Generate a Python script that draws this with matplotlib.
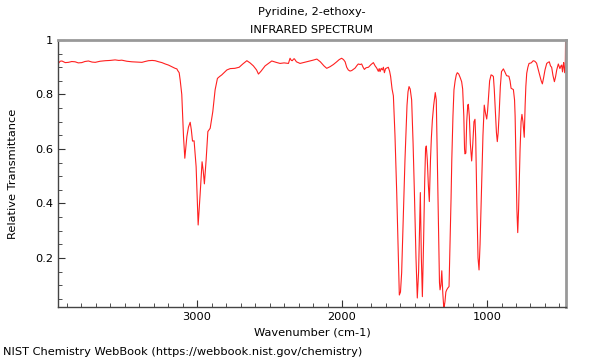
import matplotlib
matplotlib.use("Agg")
import matplotlib.pyplot as plt
from matplotlib.ticker import MultipleLocator

# Spectrum (wavenumber in cm-1, relative transmittance)
wavenumber = [
    3958, 3945, 3933, 3910, 3888, 3865, 3842, 3820, 3796, 3775, 3750, 3725,
    3703, 3670, 3634, 3600, 3566, 3540, 3520, 3485, 3450, 3415, 3381, 3360,
    3336, 3310, 3290, 3265, 3243, 3220, 3198, 3175, 3152, 3140, 3133, 3124,
    3117, 3106, 3094, 3085, 3071, 3060, 3048, 3040, 3032, 3021, 3007, 2993,
    2979, 2966, 2958, 2950, 2938, 2926, 2910, 2892, 2876, 2860, 2845, 2830,
    2795, 2772, 2740, 2710, 2685, 2657, 2635, 2612, 2590, 2577, 2560, 2531,
    2505, 2485, 2455, 2428, 2400, 2370, 2359, 2350, 2343, 2335, 2329, 2315,
    2290, 2260, 2230, 2200, 2174, 2150, 2125, 2106, 2083, 2060, 2037, 2020,
    2003, 1990, 1979, 1968, 1957, 1945, 1933, 1920, 1910, 1898, 1888, 1875,
    1865, 1855, 1846, 1835, 1818, 1800, 1784, 1772, 1761, 1750, 1744, 1738,
    1730, 1722, 1715, 1708, 1700, 1692, 1681, 1672, 1665, 1655, 1646, 1635,
    1623, 1612, 1605, 1597, 1589, 1578, 1566, 1552, 1545, 1538, 1530, 1520,
    1510, 1501, 1490, 1481, 1472, 1465, 1460, 1453, 1446, 1438, 1430, 1424,
    1419, 1412, 1405, 1398, 1390, 1384, 1377, 1368, 1357, 1350, 1343, 1335,
    1328, 1324, 1318, 1312, 1305, 1300, 1297, 1290, 1284, 1278, 1270, 1262,
    1255, 1248, 1243, 1235, 1228, 1220, 1212, 1205, 1195, 1185, 1175, 1168,
    1160, 1155, 1152, 1146, 1140, 1133, 1129, 1122, 1115, 1106, 1098, 1090,
    1083, 1078, 1070, 1062, 1055, 1048, 1037, 1028, 1019, 1010, 1002, 996,
    991, 982, 972, 964, 956, 950, 941, 935, 929, 923, 917, 908,
    900, 887, 876, 865, 849, 841, 834, 818, 810, 806, 800, 794,
    788, 782, 772, 765, 759, 752, 743, 737, 732, 726, 718, 710,
    695, 681, 670, 658, 646, 634, 626, 618, 610, 600, 588, 578,
    570, 562, 554, 545, 535, 527, 519, 508, 502, 497, 490, 485,
    479, 475, 471, 467, 464, 460, 458,
]
transmittance = [
    0.914, 0.922, 0.923, 0.917, 0.918, 0.921, 0.920, 0.916, 0.917, 0.921, 0.923, 0.919,
    0.918, 0.922, 0.924, 0.925, 0.927, 0.925, 0.926, 0.922, 0.920, 0.919, 0.918, 0.921,
    0.924, 0.925, 0.924, 0.920, 0.917, 0.912, 0.908, 0.902, 0.896, 0.894, 0.887, 0.880,
    0.853, 0.800, 0.645, 0.566, 0.645, 0.680, 0.698, 0.670, 0.629, 0.630, 0.535, 0.321,
    0.437, 0.553, 0.520, 0.472, 0.560, 0.664, 0.676, 0.737, 0.817, 0.859, 0.866, 0.872,
    0.890, 0.895, 0.896, 0.900, 0.912, 0.924, 0.916, 0.905, 0.890, 0.875, 0.885, 0.905,
    0.915, 0.923, 0.918, 0.914, 0.916, 0.914, 0.933, 0.925, 0.924, 0.930, 0.931, 0.920,
    0.914, 0.918, 0.922, 0.926, 0.930, 0.920, 0.905, 0.896, 0.902, 0.910, 0.920, 0.928,
    0.933, 0.928, 0.920, 0.900, 0.890, 0.886, 0.888, 0.893, 0.897, 0.906, 0.912, 0.910,
    0.912, 0.900, 0.892, 0.898, 0.900, 0.910, 0.917, 0.905, 0.897, 0.885, 0.895, 0.884,
    0.896, 0.890, 0.900, 0.880, 0.895, 0.897, 0.900, 0.885, 0.866, 0.820, 0.795, 0.650,
    0.440, 0.200, 0.064, 0.075, 0.145, 0.350, 0.560, 0.760, 0.810, 0.829, 0.820, 0.780,
    0.620, 0.440, 0.200, 0.053, 0.150, 0.320, 0.440, 0.200, 0.058, 0.250, 0.480, 0.600,
    0.611, 0.560, 0.470, 0.407, 0.560, 0.640, 0.706, 0.760, 0.807, 0.780, 0.560, 0.300,
    0.110, 0.083, 0.100, 0.153, 0.070, 0.030, 0.015, 0.040, 0.075, 0.083, 0.090, 0.095,
    0.250, 0.420, 0.560, 0.720, 0.817, 0.850, 0.872, 0.880, 0.875, 0.862, 0.847, 0.820,
    0.720, 0.600, 0.582, 0.585, 0.700, 0.760, 0.764, 0.720, 0.620, 0.556, 0.620, 0.700,
    0.709, 0.640, 0.400, 0.200, 0.156, 0.250, 0.474, 0.650, 0.761, 0.730, 0.710, 0.740,
    0.780, 0.850, 0.872, 0.870, 0.866, 0.820, 0.719, 0.660, 0.627, 0.660, 0.720, 0.830,
    0.884, 0.894, 0.882, 0.869, 0.867, 0.850, 0.823, 0.818, 0.780, 0.720, 0.550, 0.380,
    0.293, 0.380, 0.596, 0.700, 0.727, 0.700, 0.643, 0.760, 0.830, 0.878, 0.900, 0.914,
    0.916, 0.924, 0.922, 0.915, 0.890, 0.866, 0.850, 0.839, 0.860, 0.890, 0.914, 0.918,
    0.920, 0.905, 0.900, 0.870, 0.847, 0.865, 0.890, 0.912, 0.903, 0.895, 0.905, 0.908,
    0.883, 0.905, 0.917, 0.895, 0.880, 0.900, 1.000,
]

y_ticks = [0.2, 0.4, 0.6, 0.8, 1.0]
y_tick_labels = ["0.2", "0.4", "0.6", "0.8", "1"]
x_ticks = [3000, 2000, 1000]

fig = plt.figure(figsize=(6, 3.6), dpi=100)
ax = fig.add_axes([58 / 600, 53 / 360, 508 / 600, 267 / 360])

ax.plot(wavenumber, transmittance, color="#ff2020", lw=0.8)

ax.set_xlim(3960, 455)
ax.set_ylim(0.02, 1.0)
ax.set_xticks(x_ticks)
ax.xaxis.set_minor_locator(MultipleLocator(100))
ax.set_yticks(y_ticks)
ax.set_yticklabels(y_tick_labels)
ax.yaxis.set_minor_locator(MultipleLocator(0.05))
ax.tick_params(which="both", direction="in", labelsize=8.2, colors="#333333",
               labelcolor="black", top=False, right=False)
ax.tick_params(which="major", length=5)
ax.tick_params(which="minor", length=3)

for side in ["top", "right"]:
    ax.spines[side].set_color("#999999")
    ax.spines[side].set_linewidth(2)
for side in ["left", "bottom"]:
    ax.spines[side].set_color("#444444")
    ax.spines[side].set_linewidth(1)

ax.set_xlabel("Wavenumber (cm-1)", fontsize=8.2, labelpad=4)
ax.set_ylabel("Relative Transmittance", fontsize=8.2, labelpad=12)

fig.text(312 / 600, 1 - 12 / 360, "Pyridine, 2-ethoxy-", ha="center", va="center", fontsize=8.2)
fig.text(312 / 600, 1 - 30 / 360, "INFRARED SPECTRUM", ha="center", va="center", fontsize=8.2)
fig.text(3 / 600, 1 - 352 / 360, "NIST Chemistry WebBook (https://webbook.nist.gov/chemistry)",
         ha="left", va="center", fontsize=8.2)

fig.savefig("out.png", dpi=100)
